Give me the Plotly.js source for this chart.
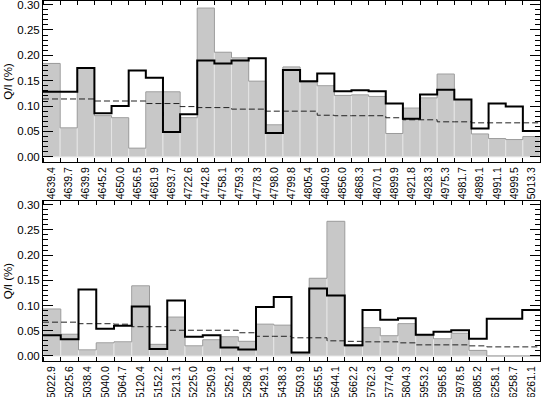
<!DOCTYPE html>
<html>
<head>
<meta charset="utf-8">
<script src="https://cdn.plot.ly/plotly-3.0.1.min.js"></script>
<style>
  html, body { margin: 0; padding: 0; background: #fff; }
  #chart { width: 541px; height: 397px; }
</style>
</head>
<body>
<div id="chart"></div>
<script>
// wavelengths (top panel / bottom panel)
const waveTop = ['4639.4','4639.7','4639.9','4645.2','4650.0','4656.5','4681.9','4693.7','4722.6','4742.8',
  '4758.1','4759.3','4778.3','4798.0','4799.8','4805.4','4840.9','4856.0','4868.3','4870.1',
  '4899.9','4921.8','4928.3','4975.3','4981.7','4989.1','4991.1','4999.5','5013.3'];
const waveBot = ['5022.9','5025.6','5038.4','5040.0','5064.7','5120.4','5152.2','5213.1','5225.0','5250.9',
  '5252.1','5298.4','5429.1','5438.3','5503.9','5565.5','5644.1','5662.2','5762.3','5774.0',
  '5804.3','5953.2','5965.8','5978.5','6085.2','6258.1','6258.7','6261.1'];

// grey filled histogram
const greyTop = [0.184,0.057,0.175,0.081,0.077,0.017,0.128,0.128,0.077,0.293,
  0.206,0.195,0.149,0.063,0.177,0.147,0.140,0.121,0.122,0.119,
  0.046,0.096,0.116,0.163,0.113,0.045,0.036,0.034,0.040];
const greyBot = [0.093,0.043,0.012,0.026,0.028,0.139,0.023,0.077,0.020,0.032,
  0.038,0.029,0.063,0.061,0.004,0.154,0.267,0.019,0.056,0.040,
  0.064,0.040,0.034,0.045,0.011,0.0,0.0,0.0];

// black outline histogram
const blackTop = [0.128,0.128,0.175,0.086,0.100,0.170,0.156,0.049,0.084,0.190,
  0.184,0.190,0.194,0.047,0.171,0.149,0.164,0.129,0.131,0.129,
  0.105,0.075,0.123,0.132,0.113,0.056,0.105,0.099,0.051];
const blackBot = [0.041,0.033,0.132,0.054,0.060,0.098,0.014,0.110,0.038,0.041,
  0.017,0.013,0.097,0.117,0.007,0.134,0.120,0.021,0.091,0.072,
  0.075,0.042,0.048,0.051,0.034,0.074,0.074,0.091];

// dashed level
const dashTop = [0.114,0.114,0.114,0.110,0.110,0.110,0.105,0.105,0.099,0.097,
  0.097,0.094,0.094,0.090,0.090,0.090,0.082,0.081,0.081,0.081,
  0.077,0.073,0.073,0.069,0.069,0.067,0.067,0.067,0.067];
const dashBot = [0.067,0.067,0.064,0.064,0.063,0.058,0.058,0.051,0.051,0.051,
  0.051,0.046,0.039,0.039,0.036,0.036,0.030,0.029,0.028,0.028,
  0.026,0.022,0.022,0.022,0.020,0.018,0.018,0.018];

const yTicks = [0, 0.05, 0.10, 0.15, 0.20, 0.25, 0.30];
const yTickText = ['0.00','0.05','0.10','0.15','0.20','0.25','0.30'];

function idx(arr) { return arr.map((_, i) => i); }

// step outline: start at left edge of each bin, repeat last value at the right edge
function stepX(arr) { return arr.map((_, i) => i - 0.5).concat([arr.length - 0.5]); }
function stepY(arr) { return arr.concat([arr[arr.length - 1]]); }

function panelTraces(grey, black, dash, xa, ya) {
  return [
    {
      x: idx(grey), y: grey, type: 'bar', width: 1,
      marker: { color: '#c8c8c8', line: { color: '#e4e4e4', width: 1 } },
      xaxis: xa, yaxis: ya, hoverinfo: 'skip'
    },
    {
      x: stepX(grey), y: stepY(grey), type: 'scatter', mode: 'lines',
      line: { color: '#9a9a9a', width: 1, shape: 'hv' },
      xaxis: xa, yaxis: ya, hoverinfo: 'skip'
    },
    {
      x: stepX(dash), y: stepY(dash), type: 'scatter', mode: 'lines',
      line: { color: '#222', width: 1, shape: 'hv', dash: '6px,3px' },
      xaxis: xa, yaxis: ya, hoverinfo: 'skip'
    },
    {
      x: stepX(black), y: stepY(black), type: 'scatter', mode: 'lines',
      line: { color: '#000', width: 2, shape: 'hv' },
      xaxis: xa, yaxis: ya, hoverinfo: 'skip'
    }
  ];
}

function xAxis(labels, domainAnchor) {
  return {
    anchor: domainAnchor,
    range: [-0.5, labels.length - 0.5],
    tickmode: 'array',
    tickvals: idx(labels),
    ticktext: labels,
    tickangle: -90,
    ticks: '', ticklen: 0,
    minor: { tick0: 0.5, dtick: 1, ticks: 'inside', ticklen: 4, tickcolor: '#000', tickwidth: 1 },
    showline: true, linecolor: '#000', linewidth: 1, mirror: 'allticks',
    showgrid: false, zeroline: false,
    tickfont: { size: 10.5, color: '#000' }
  };
}

function yAxis(domain, anchor) {
  return {
    domain: domain, anchor: anchor,
    range: [-0.01, 0.307],
    tickmode: 'array', tickvals: yTicks, ticktext: yTickText,
    ticks: 'inside', ticklen: 10, tickcolor: '#000', tickwidth: 1,
    minor: { dtick: 0.01, tick0: 0, ticks: 'inside', ticklen: 5, tickcolor: '#000', tickwidth: 1 },
    showline: true, linecolor: '#000', linewidth: 1, mirror: 'allticks',
    showgrid: false, zeroline: false,
    ticklabeloverflow: 'allow',
    tickfont: { size: 11.5, color: '#000' },
    title: { text: 'Q/I (%)', font: { size: 11.5, color: '#000' }, standoff: 2 }
  };
}

const data = panelTraces(greyTop, blackTop, dashTop, 'x', 'y')
  .concat(panelTraces(greyBot, blackBot, dashBot, 'x2', 'y2'));

const layout = {
  width: 541, height: 397,
  margin: { l: 43, r: 1, t: 1, b: 36 },
  paper_bgcolor: '#fff', plot_bgcolor: '#fff',
  showlegend: false,
  bargap: 0,
  font: { family: 'Liberation Sans, Arial, sans-serif', color: '#000' },
  xaxis: xAxis(waveTop, 'y'),
  yaxis: yAxis([0.553, 1], 'x'),
  xaxis2: xAxis(waveBot, 'y2'),
  yaxis2: yAxis([0, 0.444], 'x2')
};

Plotly.newPlot('chart', data, layout, { displayModeBar: false, staticPlot: true });
</script>
</body>
</html>
